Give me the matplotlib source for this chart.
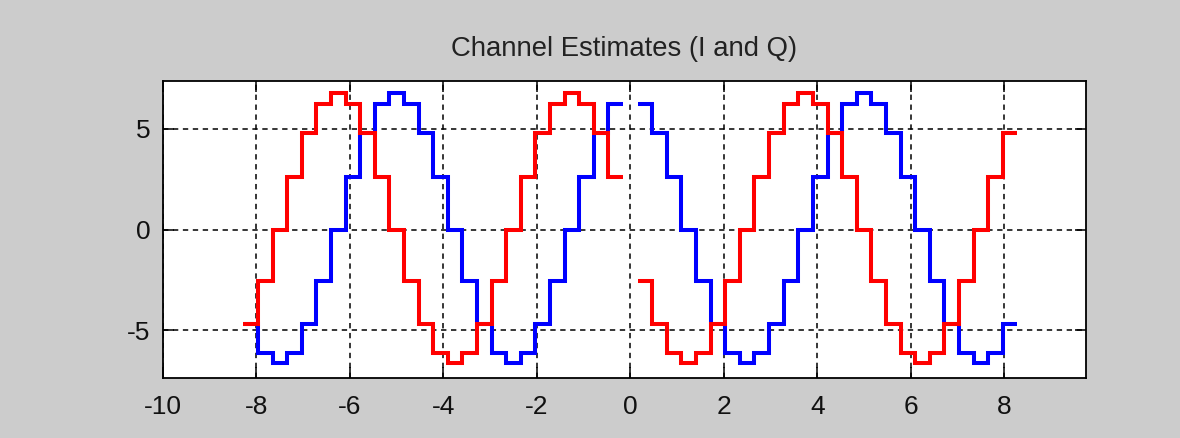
import matplotlib
matplotlib.use("Agg")
import matplotlib.pyplot as plt
import numpy as np

# ---- data -------------------------------------------------------------
subcarrier_spacing = 0.3125          # MHz
neg_subcarriers = list(range(-26, 0))
pos_subcarriers = list(range(1, 27))

q_neg = [-4.70, -6.15, -6.65, -6.15, -4.70, -2.55, 0.00, 2.60, 4.80, 6.25,
         6.75, 6.25, 4.80, 2.60, 0.00, -2.55, -4.70, -6.15, -6.65, -6.15,
         -4.70, -2.55, 0.00, 2.60, 4.80, 6.25]
q_pos = [6.25, 4.80, 2.60, 0.00, -2.55, -4.70, -6.15, -6.65, -6.15, -4.70,
         -2.55, 0.00, 2.60, 4.80, 6.25, 6.75, 6.25, 4.80, 2.60, 0.00,
         -2.55, -4.70, -6.15, -6.65, -6.15, -4.70]
i_neg = [-4.70, -2.55, 0.00, 2.60, 4.80, 6.25, 6.75, 6.25, 4.80, 2.60,
         0.00, -2.55, -4.70, -6.15, -6.65, -6.15, -4.70, -2.55, 0.00, 2.60,
         4.80, 6.25, 6.75, 6.25, 4.80, 2.60]
i_pos = [-2.55, -4.70, -6.15, -6.65, -6.15, -4.70, -2.55, 0.00, 2.60, 4.80,
         6.25, 6.75, 6.25, 4.80, 2.60, 0.00, -2.55, -4.70, -6.15, -6.65,
         -6.15, -4.70, -2.55, 0.00, 2.60, 4.80]

x_ticks = [-10, -8, -6, -4, -2, 0, 2, 4, 6, 8]
y_ticks = [-5, 0, 5]
title = "Channel Estimates (I and Q)"

# ---- figure -----------------------------------------------------------
plt.rcParams['font.family'] = ['Liberation Sans', 'DejaVu Sans']
plt.rcParams['axes.unicode_minus'] = False
bg = '#cccccc'
fig = plt.figure(figsize=(11.80, 4.38), dpi=100, facecolor=bg)
ax = fig.add_axes([163/1180, (438-378)/438, (1086-163)/1180, (378-81)/438])
ax.set_facecolor('white')


def edges_for(sc):
    c = np.asarray(sc, dtype=float) * subcarrier_spacing
    return np.append(c - subcarrier_spacing / 2, c[-1] + subcarrier_spacing / 2)


for vals, sc in ((q_neg, neg_subcarriers), (q_pos, pos_subcarriers)):
    ax.stairs(vals, edges_for(sc), baseline=None, color='#0000ff', linewidth=2.9, zorder=3)
for vals, sc in ((i_neg, neg_subcarriers), (i_pos, pos_subcarriers)):
    ax.stairs(vals, edges_for(sc), baseline=None, color='#ff0000', linewidth=2.9, zorder=4)

ax.set_xlim(-10, 9.75)
ax.set_ylim(-7.37, 7.37)
ax.set_xticks(x_ticks)
ax.set_yticks(y_ticks)
ax.grid(True, color='black', linestyle=(0, (3.5, 3)), linewidth=1.1, zorder=1)
ax.set_axisbelow(True)
ax.tick_params(direction='in', top=True, right=True, length=8, width=1.1,
               pad=9, colors='black')
ax.tick_params(axis='x', pad=12)
tick_font = ['Liberation Sans Narrow', 'Liberation Sans', 'DejaVu Sans']
for lab in ax.get_xticklabels() + ax.get_yticklabels():
    lab.set_family(tick_font)
    lab.set_fontsize(19)
    lab.set_color('#111111')
for s in ax.spines.values():
    s.set_linewidth(1.3)
    s.set_color('black')
ax.set_title(title, fontsize=19.8, pad=18, color='#222222')

fig.savefig('out.png', dpi=100, facecolor=bg)
